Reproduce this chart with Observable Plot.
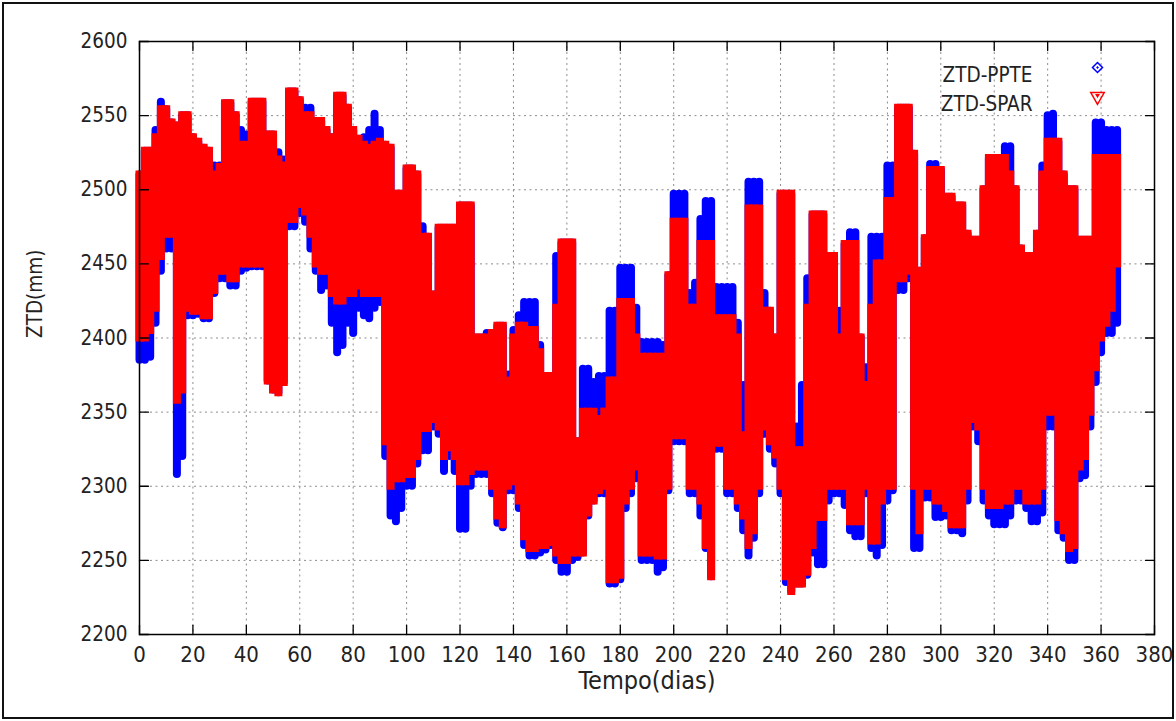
<!DOCTYPE html>
<html><head><meta charset="utf-8">
<script src="https://cdn.jsdelivr.net/npm/d3@7"></script>
<script src="https://cdn.jsdelivr.net/npm/@observablehq/plot@0.6"></script>
<style>
html,body{margin:0;padding:0;background:#fff;}
#wrap{position:relative;width:1176px;height:721px;overflow:hidden;background:#fff;}
#wrap svg{display:block;}
#border{position:absolute;left:2px;top:2px;width:1168px;height:713px;border:2px solid #111;pointer-events:none;}
</style></head><body>
<div id="wrap"><div id="border"></div></div>
<script>
const days = [0,2,4,6,8,10,12,14,16,18,20,22,24,26,28,30,32,34,36,38,40,42,44,46,48,50,52,54,56,58,60,62,64,66,68,70,72,74,76,78,80,82,84,86,88,90,92,94,96,98,100,102,104,106,108,110,112,114,116,118,120,122,124,126,128,130,132,134,136,138,140,142,144,146,148,150,152,154,156,158,160,162,164,166,168,170,172,174,176,178,180,182,184,186,188,190,192,194,196,198,200,202,204,206,208,210,212,214,216,218,220,222,224,226,228,230,232,234,236,238,240,242,244,246,248,250,252,254,256,258,260,262,264,266,268,270,272,274,276,278,280,282,284,286,288,290,292,294,296,298,300,302,304,306,308,310,312,314,316,318,320,322,324,326,328,330,332,334,336,338,340,342,344,346,348,350,352,354,356,358,360,362,364,366];

// ZTD-SPAR (red) lowest / highest value in each 2-day column (mm)
const sparLo = [2400,2400,2405,2420,2455,2470,2470,2358,2365,2420,2418,2418,2415,2415,2432,2445,2445,2440,2440,2450,2450,2450,2450,2450,2371,2365,2363,2370,2480,2480,2490,2485,2470,2450,2445,2445,2430,2425,2425,2430,2430,2435,2430,2430,2430,2430,2330,2300,2305,2305,2308,2308,2320,2339,2339,2345,2340,2320,2326,2320,2303,2303,2310,2313,2313,2313,2300,2280,2274,2300,2303,2290,2266,2258,2258,2260,2260,2262,2255,2250,2250,2255,2255,2255,2282,2290,2297,2300,2237,2237,2240,2290,2300,2313,2255,2255,2255,2253,2253,2300,2334,2334,2334,2300,2300,2290,2260,2239,2329,2329,2300,2300,2290,2280,2260,2270,2300,2340,2330,2321,2300,2239,2229,2234,2234,2242,2260,2279,2279,2300,2300,2300,2300,2276,2276,2276,2300,2263,2263,2290,2300,2300,2440,2440,2445,2300,2270,2300,2300,2290,2290,2285,2274,2274,2274,2300,2345,2340,2300,2287,2287,2287,2290,2290,2300,2300,2290,2290,2290,2300,2350,2350,2279,2270,2258,2260,2313,2320,2350,2380,2400,2410,2420,2450];
const sparHi = [2510,2526,2526,2535,2554,2554,2545,2543,2550,2550,2535,2532,2528,2526,2510,2515,2558,2558,2550,2530,2530,2559,2559,2559,2537,2537,2520,2516,2566,2566,2560,2550,2550,2546,2546,2540,2535,2563,2563,2555,2540,2534,2530,2528,2530,2532,2530,2528,2497,2497,2514,2514,2510,2468,2468,2429,2474,2474,2474,2474,2489,2489,2489,2400,2400,2400,2403,2408,2408,2371,2400,2408,2408,2405,2405,2390,2374,2374,2420,2464,2464,2464,2330,2350,2350,2350,2345,2350,2371,2371,2424,2424,2424,2400,2387,2387,2387,2387,2387,2442,2478,2478,2478,2420,2420,2463,2463,2463,2413,2413,2413,2413,2400,2334,2487,2487,2487,2418,2418,2400,2497,2497,2497,2324,2324,2420,2483,2483,2483,2455,2455,2400,2463,2463,2463,2400,2368,2420,2450,2450,2492,2492,2555,2555,2555,2524,2445,2467,2513,2513,2513,2495,2495,2489,2489,2470,2466,2466,2500,2521,2521,2521,2521,2510,2500,2460,2455,2455,2470,2510,2532,2532,2532,2510,2500,2500,2466,2466,2466,2521,2521,2521,2521,2521];

// ZTD-PPTE (blue) lowest / highest value in each 2-day column (mm)
const ppteLo = [2385,2385,2387,2410,2445,2460,2460,2308,2320,2415,2415,2416,2413,2413,2430,2440,2440,2435,2435,2445,2447,2448,2448,2448,2371,2365,2363,2370,2475,2475,2484,2478,2460,2445,2432,2435,2410,2390,2395,2410,2403,2420,2415,2413,2420,2424,2320,2280,2276,2285,2300,2300,2315,2324,2324,2340,2335,2310,2320,2310,2271,2271,2300,2308,2308,2308,2295,2275,2272,2297,2297,2285,2260,2253,2253,2255,2257,2260,2250,2242,2242,2250,2252,2255,2280,2290,2295,2295,2234,2234,2237,2285,2295,2305,2250,2250,2250,2242,2245,2297,2330,2330,2330,2295,2295,2280,2258,2239,2325,2325,2295,2295,2285,2270,2253,2265,2295,2335,2325,2315,2295,2235,2229,2234,2234,2240,2255,2247,2247,2290,2295,2295,2287,2270,2266,2266,2295,2258,2253,2260,2290,2297,2432,2432,2440,2258,2258,2292,2292,2279,2279,2280,2270,2270,2268,2290,2340,2330,2290,2280,2274,2274,2274,2280,2290,2290,2285,2276,2276,2282,2340,2340,2270,2265,2250,2250,2305,2307,2340,2370,2390,2403,2403,2410];
const ppteHi = [2510,2526,2526,2540,2559,2554,2545,2543,2550,2550,2535,2532,2528,2526,2516,2516,2558,2558,2550,2540,2537,2559,2559,2559,2537,2537,2525,2520,2566,2566,2560,2555,2555,2546,2546,2540,2535,2563,2563,2555,2540,2534,2535,2540,2551,2540,2530,2528,2497,2497,2514,2514,2510,2475,2468,2429,2474,2474,2474,2474,2489,2489,2489,2400,2400,2403,2403,2408,2408,2375,2405,2415,2424,2424,2424,2395,2374,2374,2455,2464,2464,2464,2330,2379,2379,2370,2374,2374,2418,2418,2447,2447,2447,2420,2397,2397,2397,2397,2395,2442,2497,2497,2497,2430,2437,2480,2492,2492,2434,2434,2434,2434,2410,2368,2505,2505,2505,2430,2418,2400,2497,2497,2497,2340,2368,2440,2483,2483,2483,2455,2455,2418,2463,2471,2471,2400,2380,2468,2468,2468,2516,2516,2555,2555,2555,2524,2445,2467,2517,2517,2513,2495,2495,2489,2489,2470,2466,2466,2500,2521,2521,2521,2529,2529,2500,2460,2455,2455,2470,2516,2550,2551,2532,2510,2500,2500,2466,2466,2466,2545,2545,2540,2540,2540];

const seriesNames = ["ZTD-PPTE", "ZTD-SPAR"];
const seriesColors = ["#0000ff", "#ff0000"];
const xTicks = [0,20,40,60,80,100,120,140,160,180,200,220,240,260,280,300,320,340,360,380];
const yTicks = [2200,2250,2300,2350,2400,2450,2500,2550,2600];
const xTitle = "Tempo(dias)";
const yTitle = "ZTD(mm)";

const rows = days.map((d, i) => ({day: d, sLo: sparLo[i], sHi: sparHi[i], pLo: ppteLo[i], pHi: ppteHi[i]}));

const tickShape = {draw(ctx, l) { ctx.moveTo(0, 0); ctx.lineTo(0, -l); }};
const tickOpts = {length: 9, anchor: "start", shape: tickShape, stroke: "#000", strokeWidth: 1.3};
const font = "DejaVu Sans Condensed, Noto Sans, DejaVu Sans, sans-serif";
const gridStyle = {stroke: "#8c8c8c", strokeOpacity: 1, strokeWidth: 1, strokeDasharray: "2,3.5"};

const chart = Plot.plot({
  width: 1176, height: 721,
  marginLeft: 139, marginRight: 22, marginTop: 41, marginBottom: 87,
  x: {domain: [0, 380]},
  y: {domain: [2200, 2600]},
  style: {fontFamily: font, color: "#222", background: "transparent", overflow: "visible"},
  marks: [
    Plot.gridX(xTicks.slice(1, -1), gridStyle),
    Plot.gridY(yTicks.slice(1, -1), gridStyle),
    Plot.ruleX(rows, {x: "day", y1: "pLo", y2: "pHi", stroke: seriesColors[0], strokeWidth: 8, strokeLinecap: "round"}),
    Plot.ruleX(rows, {x: "day", y1: "sLo", y2: "sHi", stroke: seriesColors[1], strokeWidth: 8, strokeLinecap: "square"}),
    Plot.frame({stroke: "#000", strokeWidth: 1.5}),
    Plot.vector(xTicks, {x: d => d, frameAnchor: "bottom", rotate: 0, ...tickOpts}),
    Plot.vector(xTicks, {x: d => d, frameAnchor: "top", rotate: 180, ...tickOpts}),
    Plot.vector(yTicks, {y: d => d, frameAnchor: "left", rotate: 90, ...tickOpts}),
    Plot.vector(yTicks, {y: d => d, frameAnchor: "right", rotate: -90, ...tickOpts}),
    Plot.axisX(xTicks, {anchor: "bottom", tickSize: 0, tickPadding: 12, label: null, fontSize: 22, fontFamily: font, fill: "#222", tickFormat: d => String(d)}),
    Plot.axisY(yTicks, {anchor: "left", tickSize: 0, tickPadding: 12, label: null, fontSize: 20.5, fontFamily: font, fill: "#222", tickFormat: d => String(d)}),
    Plot.text([xTitle], {text: d => d, frameAnchor: "bottom", dy: 54, fontSize: 25, fontFamily: font, fill: "#222", textAnchor: "middle"}),
    Plot.text([yTitle], {text: d => d, frameAnchor: "left", dx: -104, rotate: -90, fontSize: 20.5, fontFamily: font, fill: "#222"}),
    Plot.text([seriesNames[0]], {text: d => d, frameAnchor: "top-right", dx: -122, dy: 26, textAnchor: "end", fontSize: 20.5, fontFamily: font, fill: "#222"}),
    Plot.text([seriesNames[1]], {text: d => d, frameAnchor: "top-right", dx: -122, dy: 55, textAnchor: "end", fontSize: 20.5, fontFamily: font, fill: "#222"}),
    Plot.dot([seriesNames[0]], {frameAnchor: "top-right", dx: -57, dy: 26, symbol: "diamond2", r: 4.5, stroke: seriesColors[0], strokeWidth: 1.5, fill: "none"}),
    Plot.dot([seriesNames[0]], {frameAnchor: "top-right", dx: -57, dy: 26, symbol: "diamond2", r: 1.3, fill: seriesColors[0]}),
    Plot.dot([seriesNames[1]], {frameAnchor: "top-right", dx: -57, dy: 55, symbol: "triangle", rotate: 180, r: 5, stroke: seriesColors[1], strokeWidth: 1.5, fill: "none"}),
    Plot.dot([seriesNames[1]], {frameAnchor: "top-right", dx: -57, dy: 54, symbol: "triangle", rotate: 180, r: 1.8, fill: seriesColors[1]})
  ]
});
document.getElementById("wrap").prepend(chart);
</script>
</body></html>
